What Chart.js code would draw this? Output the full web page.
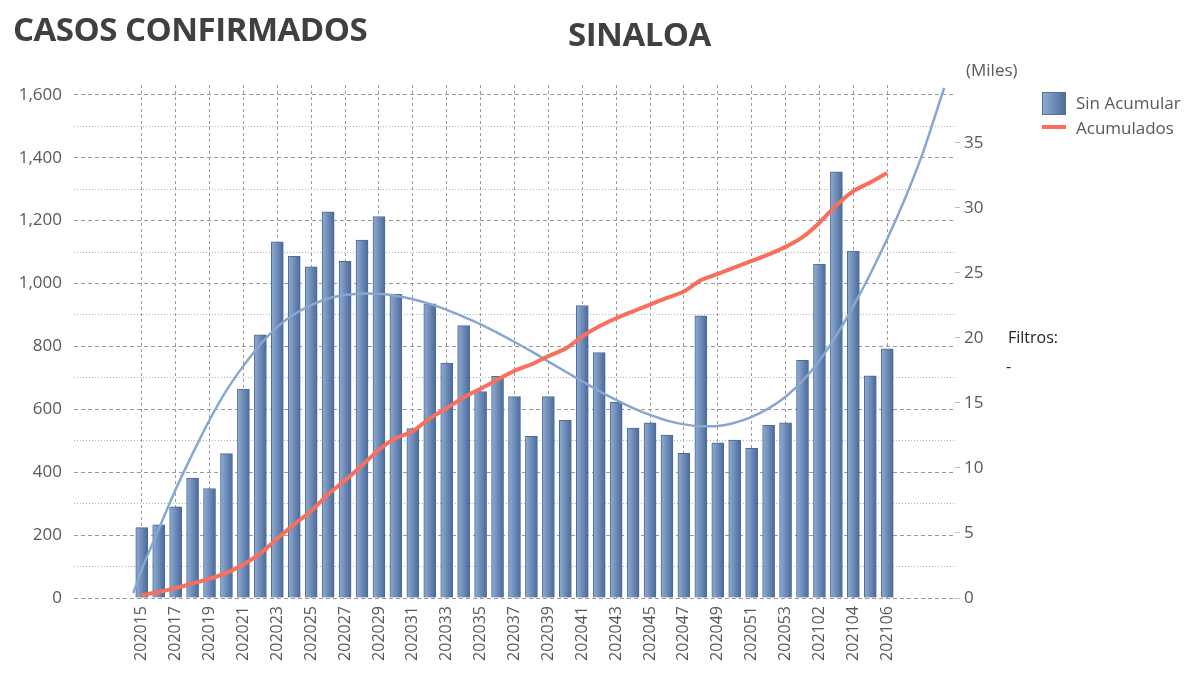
<!DOCTYPE html>
<html>
<head>
<meta charset="utf-8">
<script src="https://cdn.jsdelivr.net/npm/chart.js@4/dist/chart.umd.min.js"></script>
<style>
  html, body { margin: 0; padding: 0; background: #fff; }
  #wrap { position: relative; width: 1200px; height: 676px; font-family: "Segoe UI", "Open Sans", sans-serif; }
  #wrap canvas { position: absolute; left: 0; top: 0; }
  .txt { position: absolute; white-space: nowrap; line-height: 1; }
  .titulo { font-weight: 700; color: #404040; letter-spacing: -0.5px; }
  .gris { color: #595959; font-size: 17px; }
</style>
</head>
<body>
<div id="wrap">
  <canvas id="grafica"></canvas>
  <div class="txt titulo" style="left:13px; top:12px; font-size:33px;">CASOS CONFIRMADOS</div>
  <div class="txt titulo" style="left:568px; top:17px; font-size:33px;">SINALOA</div>
  <div class="txt gris" style="left:966px; top:61px;">(Miles)</div>
  <div style="position:absolute; left:1042px; top:92px; width:22px; height:21px; border:1px solid #5b6f8e; background:linear-gradient(90deg,#8eaad0,#4d6d9c);"></div>
  <div class="txt gris" style="left:1076px; top:94px;">Sin Acumular</div>
  <div style="position:absolute; left:1042px; top:125px; width:24px; height:4px; background:#f96f5d;"></div>
  <div class="txt gris" style="left:1076px; top:119px;">Acumulados</div>
  <div class="txt" style="left:1008px; top:329px; font-size:16px; color:#222;">Filtros:</div>
  <div class="txt" style="left:1006px; top:358px; font-size:16px; color:#222;">-</div>
</div>
<script>
// semanas epidemiologicas (eje x)
const semanas = ['202015','202016','202017','202018','202019','202020','202021','202022','202023','202024',
  '202025','202026','202027','202028','202029','202030','202031','202032','202033','202034',
  '202035','202036','202037','202038','202039','202040','202041','202042','202043','202044',
  '202045','202046','202047','202048','202049','202050','202051','202052','202053','202101',
  '202102','202103','202104','202105','202106'];

// casos por semana (eje izquierdo)
const sinAcumular = [224,233,290,381,348,459,664,837,1132,1086,
  1053,1228,1070,1138,1213,966,539,935,747,866,
  656,705,640,514,640,565,930,780,622,540,
  557,518,460,897,493,502,476,549,557,756,
  1062,1355,1103,706,792];

// casos acumulados, miles (eje derecho)
const acumulados = [0.22,0.46,0.76,1.12,1.47,1.93,2.58,3.43,4.58,5.66,
  6.7,7.98,9.05,10.2,11.4,12.3,12.83,13.82,14.6,15.43,
  16.1,16.8,17.48,17.98,18.6,19.17,20.12,20.9,21.52,22.05,
  22.57,23.09,23.58,24.45,24.94,25.43,25.93,26.43,27.01,27.75,
  28.87,30.21,31.3,31.97,32.7];

// linea de tendencia (posicion en semanas, valor)
const tendenciaX = [-0.5,0,1,2,3,4,5,6,7,8,9,10,11,12,13,14,15,16,17,18,19,20,21,22,23,24,25,26,27,28,29,30,
  31,32,33,34,35,36,37,38,39,40,41,42,43,44,45,46,47.36];
const tendenciaY = [16,90,219,345,459,566,660,738,806,862,902,931,952,963,968,967,961,950,935,916,894,870,843,814,
  784,752,720,689,658,630,604,582,564,552,546,547,557,576,603,640,690,755,835,928,1030,1142,1264,1400,1622];

// marcas de los ejes
const ticksIzq = [0,100,200,300,400,500,600,700,800,900,1000,1100,1200,1300,1400,1500,1600];
const ticksDer = [0,5,10,15,20,25,30,35];
const ticksX = semanas.map((s, i) => i).filter(i => i % 2 === 0);

Chart.defaults.font.family = '"Segoe UI", "Open Sans", sans-serif';
Chart.defaults.color = '#595959';

function degradadoBarra(c) {
  if (c.type !== 'data') return '#6f8fbb';
  const xs = c.chart.scales.x;
  const px = xs ? xs.getPixelForValue(c.dataIndex) : NaN;
  if (!isFinite(px)) return '#6f8fbb';
  const g = c.chart.ctx.createLinearGradient(px - 6, 0, px + 6, 0);
  g.addColorStop(0, '#90acd2');
  g.addColorStop(1, '#4a6a9a');
  return g;
}

new Chart(document.getElementById('grafica'), {
  type: 'bar',
  data: {
    datasets: [
      {
        label: 'Acumulados',
        type: 'line',
        yAxisID: 'y2',
        data: acumulados.map((v, i) => ({ x: i, y: v })),
        borderColor: '#f96f5d',
        borderWidth: 4,
        pointRadius: 0,
        tension: 0.2,
        order: 1
      },
      {
        label: 'Tendencia',
        type: 'line',
        yAxisID: 'y',
        data: tendenciaX.map((x, i) => ({ x: x, y: tendenciaY[i] })),
        borderColor: '#88a7cf',
        borderWidth: 2.5,
        pointRadius: 0,
        cubicInterpolationMode: 'monotone',
        order: 2
      },
      {
        label: 'Sin Acumular',
        yAxisID: 'y',
        data: sinAcumular.map((v, i) => ({ x: i, y: v })),
        backgroundColor: degradadoBarra,
        borderColor: '#4b6b99',
        borderWidth: 1,
        barThickness: 12,
        order: 3
      }
    ]
  },
  options: {
    responsive: true,
    maintainAspectRatio: false,
    animation: false,
    layout: { padding: { top: 85, left: 0, right: 0, bottom: 0 } },
    plugins: {
      legend: { display: false },
      tooltip: { enabled: false }
    },
    scales: {
      x: {
        type: 'linear',
        min: -4,
        max: 48,
        offset: false,
        afterBuildTicks: axis => { axis.ticks = ticksX.map(v => ({ value: v })); },
        afterFit: axis => { axis.height = 78; },
        ticks: {
          autoSkip: false,
          minRotation: 90,
          maxRotation: 90,
          padding: 8,
          font: { size: 16 },
          callback: v => semanas[v] || ''
        },
        grid: { color: '#9a9a9a', drawTicks: false, offset: false },
        border: { display: false, dash: [3, 3] }
      },
      y: {
        position: 'left',
        min: 0,
        max: 1631,
        afterBuildTicks: axis => { axis.ticks = ticksIzq.map(v => ({ value: v })); },
        afterFit: axis => { axis.width = 74; },
        ticks: {
          padding: 12,
          font: { size: 17 },
          callback: v => (v % 200 === 0 ? v.toLocaleString('en-US') : '')
        },
        grid: {
          drawTicks: false,
          color: c => (c.tick && c.tick.value % 200 === 0 ? '#9a9a9a' : '#b0b0b0')
        },
        border: {
          display: false,
          dash: c => (c.tick && c.tick.value % 200 === 0 ? [4, 3] : [1, 2])
        }
      },
      y2: {
        position: 'right',
        min: 0,
        max: 39.46,
        afterBuildTicks: axis => { axis.ticks = ticksDer.map(v => ({ value: v })); },
        afterFit: axis => { axis.width = 245; },
        ticks: { padding: 4, font: { size: 17 } },
        grid: { drawOnChartArea: false, drawTicks: true, tickLength: 5, color: '#bdbdbd' },
        border: { display: false }
      }
    }
  }
});
</script>
</body>
</html>
